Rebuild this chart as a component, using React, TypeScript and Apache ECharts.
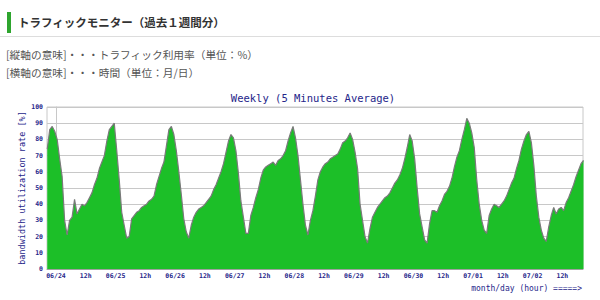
import React, { useEffect, useRef } from "react";
import * as echarts from "echarts";

// hours relative to 06/24 00:00 (one sample per hour)
const startHour = -3.5;
const usage: number[] = [
  74, 86, 88, 85, 80, 68, 57, 30, 21, 30, 32, 43, 34, 37, 40, 39, 41, 44, 47, 52,
  56, 62, 66, 70, 79, 86, 88, 90, 73, 55, 35, 27, 19, 20, 31, 33, 35, 36, 38, 39,
  40, 42, 43, 45, 52, 57, 62, 66, 76, 86, 88, 83, 73, 60, 46, 31, 23, 19, 27, 32,
  35, 37, 38, 39, 41, 43, 45, 49, 52, 56, 60, 65, 72, 79, 83, 81, 73, 59, 42, 32,
  22, 22, 33, 38, 44, 49, 56, 61, 63, 64, 65, 66, 64, 67, 68, 70, 73, 79, 84, 88,
  81, 70, 55, 40, 27, 21, 30, 36, 45, 55, 60, 63, 65, 66, 68, 69, 70, 71, 74, 78,
  79, 81, 84, 80, 72, 62, 40, 30, 20, 16, 25, 32, 35, 38, 40, 42, 44, 45, 47, 50,
  53, 55, 58, 62, 68, 75, 83, 79, 68, 50, 34, 26, 18, 16, 28, 36, 36, 35, 39, 42,
  46, 48, 51, 56, 63, 69, 73, 80, 86, 93, 90, 84, 75, 55, 40, 30, 24, 22, 33, 37,
  40, 39, 38, 40, 42, 45, 49, 53, 56, 62, 67, 74, 79, 83, 85, 78, 64, 45, 32, 24,
  19, 17, 26, 33, 38, 34, 37, 38, 36, 41, 44, 48, 52, 57, 61, 65, 67,
];
const xLabels: string[] = [
  "06/24", "12h", "06/25", "12h", "06/26", "12h", "06/27", "12h", "06/28", "12h",
  "06/29", "12h", "06/30", "12h", "07/01", "12h", "07/02", "12h",
];
const yTicks: number[] = [0, 10, 20, 30, 40, 50, 60, 70, 80, 90, 100];

const headerTitle = "トラフィックモニター（過去１週間分）";
const noteY = "[縦軸の意味]・・・トラフィック利用率（単位：%）";
const noteX = "[横軸の意味]・・・時間（単位：月/日）";
const chartTitle = "Weekly (5 Minutes Average)";
const yName = "bandwidth utilization rate [%]";
const xName = "month/day (hour) =====>";

const NAVY = "#26268a";
const MONO = "'DejaVu Sans Mono', 'Liberation Mono', monospace";
const JP = "'Noto Sans CJK JP', 'Noto Sans', sans-serif";

export default function App() {
  const ref = useRef<HTMLDivElement>(null);
  useEffect(() => {
    if (!ref.current) return;
    const chart = echarts.init(ref.current, undefined, { renderer: "svg" });
    const points = usage.map((v, i) => [startHour + i, v]);
    const labelValues = xLabels.map((_, i) => i * 12);
    chart.setOption({
      animation: false,
      backgroundColor: "#ffffff",
      grid: {
        left: 47,
        top: 107,
        right: 17,
        bottom: 31,
        show: true,
        borderColor: "#c8c8c8",
        borderWidth: 1,
      },
      xAxis: {
        type: "value",
        min: -3.6,
        max: 212.3,
        splitLine: { show: false },
        axisTick: { show: false },
        axisLine: { show: true, lineStyle: { color: "#a0a0a0", width: 1 } },
        axisLabel: {
          customValues: labelValues,
          formatter: (v: number) => xLabels[Math.round(v / 12)] ?? "",
          color: NAVY,
          fontFamily: MONO,
          fontSize: 6.5,
          fontWeight: "bold",
          margin: 3,
        },
      },
      yAxis: {
        type: "value",
        min: 0,
        max: 100,
        interval: 10,
        axisLine: { show: true, lineStyle: { color: "#c8c8c8" } },
        axisTick: { show: false },
        splitLine: { show: true, lineStyle: { color: "#c8c8c8", width: 1 } },
        axisLabel: {
          customValues: yTicks,
          color: NAVY,
          fontFamily: MONO,
          fontSize: 6.5,
          fontWeight: "bold",
          margin: 4,
        },
      },
      series: [
        {
          type: "line",
          data: points,
          symbol: "none",
          smooth: false,
          lineStyle: { color: "#7a7a7a", width: 1.2 },
          areaStyle: { color: "#1cbf28", opacity: 1 },
          z: 3,
        },
      ],
      graphic: [
        {
          type: "rect",
          shape: { x: 7, y: 12, width: 4, height: 21 },
          style: { fill: "#2ea52e" },
        },
        {
          type: "text",
          x: 18,
          y: 22,
          style: {
            text: headerTitle,
            font: `bold 11.5px ${JP}`,
            fill: "#333333",
            verticalAlign: "middle",
          },
        },
        {
          type: "line",
          shape: { x1: 0, y1: 36.5, x2: 600, y2: 36.5 },
          style: { stroke: "#dddddd", lineWidth: 1 },
        },
        {
          type: "text",
          x: 6,
          y: 54,
          style: {
            text: noteY,
            font: `10.7px ${JP}`,
            fill: "#555555",
            verticalAlign: "middle",
          },
        },
        {
          type: "text",
          x: 6,
          y: 72,
          style: {
            text: noteX,
            font: `10.7px ${JP}`,
            fill: "#555555",
            verticalAlign: "middle",
          },
        },
        {
          type: "text",
          x: 313,
          y: 98,
          style: {
            text: chartTitle,
            font: `10.5px ${MONO}`,
            fill: NAVY,
            align: "center",
            verticalAlign: "middle",
          },
        },
        {
          type: "text",
          x: 22,
          y: 188,
          rotation: Math.PI / 2,
          style: {
            text: yName,
            font: `8.5px ${MONO}`,
            fill: NAVY,
            align: "center",
            verticalAlign: "middle",
          },
        },
        {
          type: "text",
          x: 582,
          y: 288,
          style: {
            text: xName,
            font: `8px ${MONO}`,
            fill: NAVY,
            align: "right",
            verticalAlign: "middle",
          },
        },
      ],
    });
    return () => chart.dispose();
  }, []);
  return (
    <div
      ref={ref}
      style={{ position: "fixed", left: 0, top: 0, width: 600, height: 300 }}
    />
  );
}
